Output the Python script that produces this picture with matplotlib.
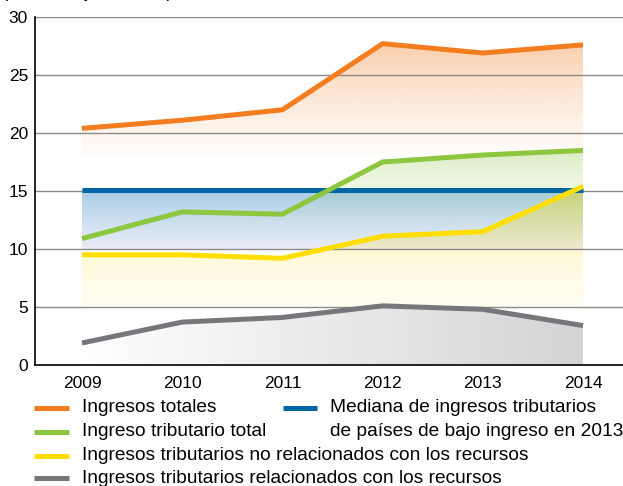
import numpy as np
import matplotlib
matplotlib.use("Agg")
import matplotlib.pyplot as plt
from matplotlib.lines import Line2D

# data (percent of GDP)
years = [2009, 2010, 2011, 2012, 2013, 2014]
ingresos_totales = [20.4, 21.1, 22.0, 27.7, 26.9, 27.6]
tributario_total = [10.9, 13.2, 13.0, 17.5, 18.1, 18.5]
no_recursos = [9.5, 9.5, 9.2, 11.1, 11.5, 15.4]
recursos = [1.9, 3.7, 4.1, 5.1, 4.8, 3.4]
mediana_bajo_ingreso = 15.1

yticks = [0, 5, 10, 15, 20, 25, 30]

legend_left = [
    ("Ingresos totales", "#f47d20"),
    ("Ingreso tributario total", "#8dc63f"),
    ("Ingresos tributarios no relacionados con los recursos", "#ffde00"),
    ("Ingresos tributarios relacionados con los recursos", "#77777b"),
]
legend_right = ("Mediana de ingresos tributarios\nde países de bajo ingreso en 2013", "#0066a6")

plt.rcParams['font.family'] = ['Liberation Sans', 'DejaVu Sans']

W, H = 623, 486
fig = plt.figure(figsize=(W / 100, H / 100), dpi=100)
ax = fig.add_axes([35 / W, (H - 365) / H, (W - 35) / W, (365 - 17) / H])


def gradient_fill(ax, x, ytop, ybot, rgb0, rgb1, a0, a1, y0, y1,
                  horizontal=False, gamma=1.0, z=1):
    # fill the region between ytop and ybot with a gradient clipped to that region
    poly = ax.fill_between(x, ytop, ybot, facecolor="none", edgecolor="none")
    n = 256
    t = np.linspace(0, 1, n)
    rgba = np.zeros((n, 4))
    for i in range(3):
        rgba[:, i] = (rgb0[i] + (rgb1[i] - rgb0[i]) * t) / 255
    rgba[:, 3] = a1 + (a0 - a1) * (1 - t) ** gamma
    if horizontal:
        img = rgba[np.newaxis, :, :]
        extent = [x[0], x[-1], 0, 30]
    else:
        # row 0 is drawn at the top (y0)
        img = rgba[:, np.newaxis, :]
        extent = [x[0], x[-1], y1, y0]
    im = ax.imshow(img, extent=extent, origin="upper", aspect="auto",
                   interpolation="bilinear", zorder=z)
    im.set_clip_path(poly.get_paths()[0], ax.transData)


x = np.array(years, dtype=float)
n = len(years)

# blue band between the median and 10
gradient_fill(ax, x, [mediana_bajo_ingreso] * n, [10] * n,
              (162, 203, 229), (230, 232, 246), 0.95, 0.8, 15, 10, z=1.0)
# green
gradient_fill(ax, x, tributario_total, [10] * n,
              (141, 198, 63), (141, 198, 63), 0.32, 0.0, 18.6, 10, gamma=1.8, z=1.1)
# yellow
gradient_fill(ax, x, no_recursos, [5] * n,
              (255, 222, 0), (255, 222, 0), 0.45, 0.06, 15.5, 5, gamma=1.6, z=1.2)
# orange
gradient_fill(ax, x, ingresos_totales, [18.2] * n,
              (244, 125, 32), (244, 125, 32), 0.38, 0.03, 28, 18.2, gamma=1.2, z=1.3)
# gray, horizontal
gradient_fill(ax, x, recursos, [0] * n,
              (255, 255, 255), (212, 212, 214), 1.0, 1.0, 0, 0, horizontal=True, z=1.4)

ax.set_xlim(2009 - 47 / 100.2, 2014 + 40 / 100.2)
ax.set_ylim(0, 30)

for yv in yticks[1:]:
    ax.axhline(yv, color="#8a8a8a", lw=1.0, zorder=2)

ax.plot(years, [mediana_bajo_ingreso] * n, color="#0066a6", lw=3.6, zorder=3,
        solid_capstyle="butt")
ax.plot(years, recursos, color="#77777b", lw=3.6, zorder=3, solid_capstyle="butt")
ax.plot(years, no_recursos, color="#ffde00", lw=3.6, zorder=3, solid_capstyle="butt")
ax.plot(years, tributario_total, color="#8dc63f", lw=3.6, zorder=3, solid_capstyle="butt")
ax.plot(years, ingresos_totales, color="#f47d20", lw=3.6, zorder=3, solid_capstyle="butt")

ax.set_xticks(years)
ax.set_xticklabels([str(y) for y in years])
ax.set_yticks(yticks)
ax.tick_params(length=0, labelsize=12.5, colors="black")
ax.tick_params(axis="x", pad=8)
ax.tick_params(axis="y", pad=5)
for s in ["top", "right"]:
    ax.spines[s].set_visible(False)
for s in ["left", "bottom"]:
    ax.spines[s].set_linewidth(1.2)
    ax.spines[s].set_zorder(4)
ax.patch.set_visible(False)

# unit line, cut off at the very top as in the source
fig.text(2 / W, 1 + 3.0 / H, "(Porcentaje del PIB)", fontsize=13.8, va="baseline", ha="left")

# legend drawn by hand
row_y = [408, 432, 456, 478]
for (label, col), yy in zip(legend_left, row_y):
    yf = 1 - yy / H
    fig.add_artist(Line2D([34 / W, 69 / W], [yf, yf], color=col, lw=3.6,
                          transform=fig.transFigure, solid_capstyle="butt"))
    fig.text(82 / W, yf, label, fontsize=13.8, va="center", ha="left")

label, col = legend_right
yf = 1 - row_y[0] / H
fig.add_artist(Line2D([283 / W, 317 / W], [yf, yf], color=col, lw=3.6,
                      transform=fig.transFigure, solid_capstyle="butt"))
for i, line in enumerate(label.split("\n")):
    fig.text(330 / W, 1 - row_y[i] / H, line, fontsize=13.8, va="center", ha="left")

fig.savefig("out.png", dpi=100)
